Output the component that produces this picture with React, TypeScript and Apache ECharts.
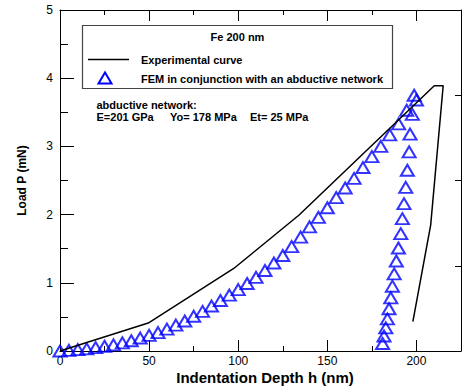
import React, { useEffect, useRef } from "react";
import * as echarts from "echarts";

const expX = [0, 49.5, 97.5, 134, 210, 215, 208, 198];
const expY = [0, 0.41, 1.21, 1.99, 3.89, 3.89, 1.85, 0.43];

const loadX = [0, 5, 10, 15, 20, 25, 30, 35, 40, 45, 50, 55, 60, 65, 70, 75, 80, 85, 90, 95, 100, 105, 110, 115, 120, 125, 130, 135, 140, 145, 150, 155, 160, 165, 170, 175, 180, 185, 190, 194.5, 198.7];
const loadY = [0, 0.01, 0.02, 0.03, 0.05, 0.07, 0.09, 0.12, 0.15, 0.19, 0.23, 0.27, 0.32, 0.38, 0.44, 0.51, 0.58, 0.66, 0.74, 0.82, 0.9, 0.99, 1.08, 1.18, 1.29, 1.4, 1.53, 1.67, 1.82, 1.96, 2.1, 2.25, 2.39, 2.53, 2.69, 2.85, 3.0, 3.17, 3.33, 3.53, 3.75];

const unloadX = [200, 197.7, 196.4, 195.9, 194.9, 194, 193, 192.1, 191.2, 189.9, 188.7, 187.5, 186.5, 185.6, 184.6, 183.7, 182.8, 181.8, 181];
const unloadY = [3.68, 3.47, 3.18, 2.92, 2.65, 2.4, 2.16, 1.94, 1.72, 1.51, 1.32, 1.13, 0.95, 0.78, 0.62, 0.47, 0.34, 0.22, 0.11];

const xTickLabels = ["0", "50", "100", "150", "200"];
const yTickLabels = ["0", "1", "2", "3", "4", "5"];

const legendTitle = "Fe 200 nm";
const seriesNames = ["Experimental curve", "FEM in conjunction with an abductive network"];
const noteTitle = "abductive network:";
const noteParams = ["E=201 GPa", "Yo= 178 MPa", "Et= 25 MPa"];

const FONT = '"Liberation Sans", Arial, sans-serif';

export default function App() {
  const ref = useRef<HTMLDivElement>(null);
  useEffect(() => {
    if (!ref.current) return;
    const chart = echarts.init(ref.current, null, { renderer: "svg" });
    const axisLineStyle = { color: "#000", width: 1 };
    const xBase: any = {
      type: "value",
      min: 0,
      max: 225,
      splitLine: { show: false },
      axisLine: { show: true, onZero: false, lineStyle: axisLineStyle },
    };
    const bold11 = `bold 11px ${FONT}`;
    const textEl = (text: string, x: number, y: number, align = "left") => ({
      type: "text",
      x,
      y,
      z: 11,
      style: { text, fill: "#000", font: bold11, align, verticalAlign: "middle" },
    });
    const noteX = [96.5, 170, 250];
    const option: any = {
      animation: false,
      textStyle: { fontFamily: FONT },
      grid: { left: 60, right: 1, top: 10, bottom: 35, containLabel: false, outerBoundsMode: "none" },
      xAxis: [
        {
          ...xBase,
          position: "bottom",
          interval: 25,
          axisTick: { show: true, inside: true, length: 5, lineStyle: axisLineStyle },
          axisLabel: {
            margin: 4,
            color: "#000",
            fontSize: 12,
            lineHeight: 12,
            fontFamily: FONT,
            showMaxLabel: false,
            formatter: (v: number) => (xTickLabels.includes(String(v)) ? String(v) : ""),
          },
          name: "Indentation Depth h (nm)",
          nameLocation: "middle",
          nameGap: 19,
          nameMoveOverlap: false,
          nameTextStyle: { fontWeight: "bold", fontSize: 15, lineHeight: 15, color: "#000", fontFamily: FONT, padding: [0, 0, 0, 9] },
        },
        {
          ...xBase,
          position: "bottom",
          interval: 50,
          axisLine: { show: false, onZero: false },
          axisTick: { show: true, inside: true, length: 11, lineStyle: axisLineStyle },
          axisLabel: { show: false },
        },
        {
          ...xBase,
          position: "top",
          interval: 25,
          axisTick: { show: true, inside: true, length: 5, lineStyle: axisLineStyle },
          axisLabel: { show: false },
        },
        {
          ...xBase,
          position: "top",
          interval: 50,
          axisLine: { show: false, onZero: false },
          axisTick: { show: true, inside: true, length: 11, lineStyle: axisLineStyle },
          axisLabel: { show: false },
        },
      ],
      yAxis: [
        {
          type: "value",
          min: 0,
          max: 5,
          interval: 1,
          position: "left",
          splitLine: { show: false },
          axisLine: { show: true, onZero: false, lineStyle: axisLineStyle },
          axisTick: { show: true, inside: true, length: 14, lineStyle: axisLineStyle },
          minorTick: { show: true, splitNumber: 2, length: 8, lineStyle: axisLineStyle },
          minorSplitLine: { show: false },
          axisLabel: {
            margin: 7,
            color: "#000",
            fontSize: 12,
            fontFamily: FONT,
            formatter: (v: number) => (yTickLabels.includes(String(v)) ? String(v) : ""),
          },
          name: "Load P (mN)",
          nameLocation: "middle",
          nameGap: 32,
          nameMoveOverlap: false,
          nameTextStyle: { fontWeight: "bold", fontSize: 12, color: "#000", fontFamily: FONT },
        },
        {
          type: "value",
          min: 0,
          max: 5,
          interval: 1.25,
          position: "right",
          splitLine: { show: false },
          axisLine: { show: true, onZero: false, lineStyle: axisLineStyle },
          axisTick: { show: true, inside: true, length: 6, lineStyle: axisLineStyle },
          axisLabel: { show: false },
        },
      ],
      series: [
        {
          name: seriesNames[0],
          type: "line",
          xAxisIndex: 0,
          yAxisIndex: 0,
          data: expX.map((x, i) => [x, expY[i]]),
          symbol: "none",
          lineStyle: { color: "#000", width: 1.5 },
        },
        {
          name: seriesNames[1],
          type: "scatter",
          xAxisIndex: 0,
          yAxisIndex: 0,
          clip: false,
          data: [
            ...loadX.map((x, i) => [x, loadY[i]]),
            ...unloadX.map((x, i) => [x, unloadY[i]]),
          ],
          symbol: "triangle",
          symbolSize: [13, 11],
          itemStyle: { color: "rgba(0,0,0,0)", borderColor: "#0000ff", borderWidth: 2 },
        },
      ],
      graphic: [
        {
          type: "rect",
          shape: { x: 82.5, y: 25.5, width: 310, height: 63 },
          style: { fill: "#fff", stroke: "#444", lineWidth: 1.2 },
          z: 10,
        },
        textEl(legendTitle, 237.5, 37, "center"),
        {
          type: "line",
          shape: { x1: 88, y1: 59.5, x2: 129, y2: 59.5 },
          style: { stroke: "#000", lineWidth: 1.5 },
          z: 11,
        },
        textEl(seriesNames[0], 141, 59.5),
        {
          type: "polygon",
          shape: { points: [[98.5, 83.5], [111.5, 83.5], [105, 72.5]] },
          style: { fill: "none", stroke: "#0000ff", lineWidth: 2 },
          z: 11,
        },
        textEl(seriesNames[1], 141, 78.5),
        textEl(noteTitle, 96.5, 105),
        ...noteParams.map((t, i) => textEl(t, noteX[i], 117)),
      ],
    };
    chart.setOption(option);
    return () => chart.dispose();
  }, []);
  return (
    <div
      ref={ref}
      style={{ position: "fixed", left: 0, top: 0, width: 462, height: 386, background: "#fff" }}
    />
  );
}
